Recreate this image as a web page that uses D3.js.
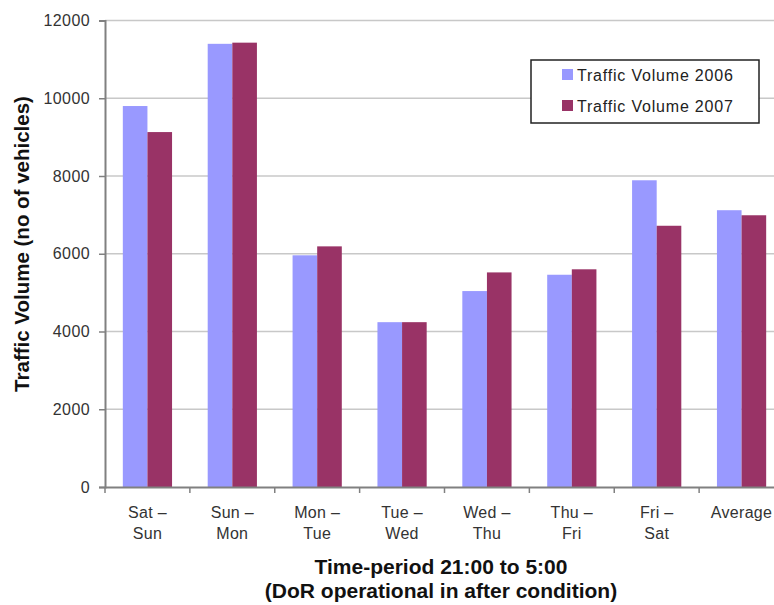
<!DOCTYPE html>
<html>
<head>
<meta charset="utf-8">
<script src="https://cdn.jsdelivr.net/npm/d3@7"></script>
<style>
  html, body { margin: 0; padding: 0; background: #fff; }
  svg { display: block; font-family: Arial, "Liberation Sans", sans-serif; }
</style>
</head>
<body>
<svg id="chart" width="774" height="605"></svg>
<script>
// Night-time traffic volume by day pair, 21:00 to 5:00
const categories = [
  ["Sat –", "Sun"], ["Sun –", "Mon"], ["Mon –", "Tue"], ["Tue –", "Wed"],
  ["Wed –", "Thu"], ["Thu –", "Fri"], ["Fri –", "Sat"], ["Average"]
];
const volume2006 = [9800, 11400, 5960, 4240, 5040, 5460, 7890, 7120];
const volume2007 = [9130, 11430, 6190, 4240, 5520, 5600, 6720, 6990];
const seriesNames = ["Traffic Volume 2006", "Traffic Volume 2007"];
const seriesColors = ["#9999ff", "#993366"];
const yTicks = [0, 2000, 4000, 6000, 8000, 10000, 12000];

const svg = d3.select("#chart");
const plot = { left: 105, right: 784, top: 20.5, bottom: 487 };

const x0 = d3.scaleBand().domain(d3.range(categories.length)).range([plot.left, plot.right]);
const groupW = x0.bandwidth() * 0.58;
const x1 = d3.scaleBand().domain([0, 1]).range([0, groupW]);
const y = d3.scaleLinear().domain([0, 12000]).range([plot.bottom, plot.top]);

// gridlines
svg.append("g")
  .selectAll("line").data(yTicks.filter(d => d > 0)).join("line")
  .attr("x1", plot.left).attr("x2", plot.right)
  .attr("y1", d => y(d)).attr("y2", d => y(d))
  .attr("stroke", "#c8c8c8").attr("stroke-width", 1.5);

// bars
const series = [volume2006, volume2007];
const groups = svg.append("g").selectAll("g").data(categories).join("g")
  .attr("transform", (d, i) => `translate(${x0(i) + (x0.bandwidth() - groupW) / 2},0)`);
groups.selectAll("rect")
  .data((d, i) => series.map((s, k) => ({ k, v: s[i] })))
  .join("rect")
  .attr("x", d => x1(d.k))
  .attr("width", x1.bandwidth())
  .attr("y", d => y(d.v))
  .attr("height", d => y(0) - y(d.v))
  .attr("fill", d => seriesColors[d.k]);

// y axis
const yAxis = svg.append("g").attr("transform", `translate(${plot.left},0)`)
  .call(d3.axisLeft(y).tickValues(yTicks).tickSize(6).tickPadding(9).tickFormat(d3.format("d")));
yAxis.select(".domain").attr("stroke", "#808080").attr("stroke-width", 2);
yAxis.selectAll(".tick line").attr("stroke", "#808080").attr("stroke-width", 1.5);
yAxis.selectAll(".tick text").attr("font-size", 16).attr("letter-spacing", 0.4).attr("fill", "#333")
  .attr("font-family", "Arial, 'Liberation Sans', sans-serif");

// x axis
const xAxis = svg.append("g").attr("transform", `translate(0,${plot.bottom})`)
  .call(d3.axisBottom(x0).tickValues([]).tickSizeOuter(0));
xAxis.select(".domain").attr("stroke", "#808080").attr("stroke-width", 2);
svg.append("g").selectAll("line").data(d3.range(categories.length + 1)).join("line")
  .attr("x1", i => plot.left + i * x0.step()).attr("x2", i => plot.left + i * x0.step())
  .attr("y1", plot.bottom).attr("y2", plot.bottom + 6)
  .attr("stroke", "#808080").attr("stroke-width", 1.5);

// category labels
const catLabels = svg.append("g").selectAll("text").data(categories).join("text")
  .attr("x", (d, i) => x0(i) + x0.bandwidth() / 2)
  .attr("y", 518)
  .attr("text-anchor", "middle")
  .attr("font-size", 16).attr("letter-spacing", 0.3).attr("fill", "#333");
catLabels.selectAll("tspan").data(d => d).join("tspan")
  .attr("x", function () { return this.parentNode.getAttribute("x"); })
  .attr("dy", (d, i) => i === 0 ? 0 : 21)
  .text(d => d);

// axis titles
svg.append("text")
  .attr("transform", "translate(29,244) rotate(-90)")
  .attr("text-anchor", "middle")
  .attr("font-size", 20.5).attr("font-weight", "bold").attr("fill", "#111")
  .text("Traffic Volume (no of vehicles)");
svg.append("text")
  .attr("x", 441).attr("y", 574)
  .attr("text-anchor", "middle")
  .attr("font-size", 21).attr("font-weight", "bold").attr("fill", "#111")
  .text("Time-period 21:00 to 5:00");
svg.append("text")
  .attr("x", 441).attr("y", 598)
  .attr("text-anchor", "middle")
  .attr("font-size", 21).attr("font-weight", "bold").attr("fill", "#111")
  .text("(DoR operational in after condition)");

// legend
const legend = svg.append("g").attr("transform", "translate(531,60)");
legend.append("rect").attr("width", 228).attr("height", 63)
  .attr("fill", "#fff").attr("stroke", "#222").attr("stroke-width", 1.5);
const items = legend.selectAll("g.item").data(seriesNames).join("g")
  .attr("class", "item")
  .attr("transform", (d, i) => `translate(31,${9 + i * 31})`);
items.append("rect").attr("width", 11).attr("height", 11)
  .attr("fill", (d, i) => seriesColors[i]);
items.append("text").attr("x", 15).attr("y", 12)
  .attr("font-size", 16).attr("letter-spacing", 0.8).attr("fill", "#222")
  .text(d => d);
</script>
</body>
</html>
